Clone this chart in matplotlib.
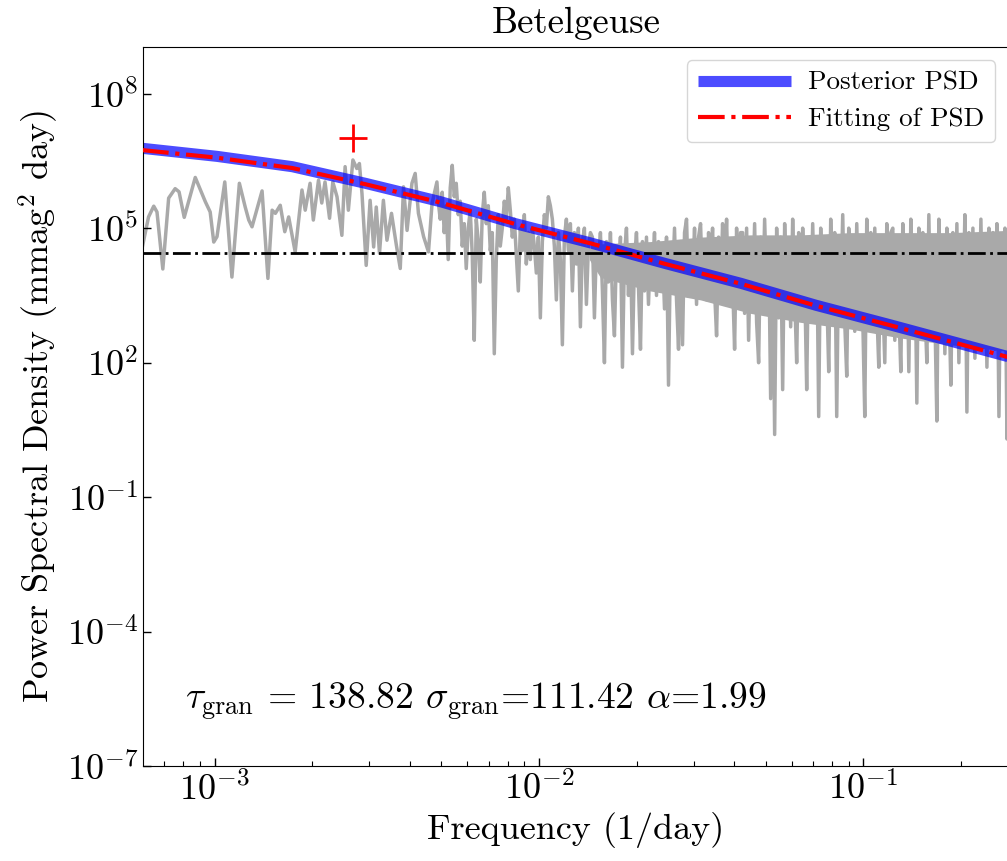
import numpy as np
import matplotlib
matplotlib.use('Agg')
import matplotlib.pyplot as plt
from matplotlib.ticker import FuncFormatter, FixedLocator, NullLocator

plt.rcParams['font.family'] = 'serif'
plt.rcParams['font.serif'] = ['cmr10']
plt.rcParams['mathtext.fontset'] = 'cm'
plt.rcParams['axes.formatter.use_mathtext'] = True

# periodogram, low-frequency part: log10(freq), log10(power)
low_logf = [-3.224, -3.204, -3.188, -3.178, -3.160, -3.142, -3.122, -3.110, -3.094, -3.060,
            -3.029, -3.014, -3.003, -2.993, -2.969, -2.947, -2.924, -2.906, -2.895, -2.885,
            -2.854, -2.836, -2.823, -2.813, -2.798, -2.784, -2.772, -2.752, -2.731, -2.721,
            -2.706, -2.696, -2.680, -2.670, -2.660, -2.646, -2.636, -2.623, -2.608, -2.598,
            -2.588, -2.574, -2.562, -2.554, -2.546, -2.533, -2.521, -2.510, -2.502, -2.492,
            -2.480, -2.469, -2.455, -2.440, -2.428, -2.418, -2.407, -2.392, -2.382, -2.372,
            -2.356, -2.341, -2.330, -2.315]
low_logp = [4.55, 5.25, 5.49, 5.36, 4.09, 5.67, 5.88, 5.81, 5.24, 6.13,
            5.59, 5.36, 4.69, 4.81, 6.03, 3.91, 6.00, 5.47, 5.18, 5.03,
            5.83, 3.88, 5.40, 5.33, 5.51, 4.92, 5.25, 4.47, 5.85, 5.40,
            6.00, 5.18, 6.07, 5.56, 6.03, 5.22, 6.03, 5.70, 4.84, 6.37,
            5.40, 6.52, 6.33, 6.44, 5.77, 4.17, 5.62, 4.58, 5.47, 4.44,
            5.62, 4.73, 5.33, 4.62, 4.10, 5.92, 4.95, 6.00, 6.22, 5.33,
            4.81, 4.47, 5.55, 6.03]

# periodogram, dense part: log10(power) read on an even log-frequency grid
dense_logf_range = (-2.311, -0.5515)
dense_logp = [
    5.6, 5.2, 5.8, 4.9, 5.5, 4.3, 5.9, 6.4, 5.7, 6.0, 5.3, 5.6, 4.6, 5.1, 4.1, 5.0, 5.4, 4.4, 2.5, 5.2,
    4.7, 3.8, 5.3, 5.8, 5.1, 5.5, 4.5, 4.9, 2.2, 4.3, 5.3, 4.6, 5.0, 5.6, 5.2, 5.9, 5.4, 4.8, 5.2, 4.4,
    3.6, 5.0, 4.5, 5.3, 4.2, 4.9, 4.3, 5.0, 4.6, 4.0, 4.8, 3.0, 4.7, 5.3, 5.0, 5.7, 5.5, 5.2, 4.6, 3.4,
    4.9, 4.3, 2.4, 4.8, 5.2, 4.5, 5.1, 3.6, 4.9, 4.2, 5.0, 2.8, 4.7, 5.0, 3.3, 4.6, 4.9,
    4.8, 3.0, 4.6, 4.2, 4.9, 3.6, 2.0, 4.7, 3.8, 4.9, 3.4, 2.6, 4.5, 3.9, 4.8, 1.9, 4.4, 5.0, 3.5, 4.6,
    2.2, 4.3, 4.9, 3.7, 2.3, 4.7, 3.6, 4.8, 3.3, 4.6, 4.1, 4.9, 3.5, 4.7, 3.9, 4.5, 3.2, 4.8, 1.5, 4.6,
    3.8, 5.0, 3.4, 2.3, 4.7, 2.4, 4.9, 5.2, 3.6, 4.6, 3.9, 5.0, 3.3, 4.8, 5.1, 3.7, 4.6, 3.4, 4.9, 4.2,
    5.0, 3.6, 2.6, 4.8, 3.5, 5.1, 4.0, 5.2, 3.4, 4.7, 3.8, 2.3, 5.0, 3.6, 4.9,
    4.9, 3.1, 5.0, 2.5, 4.6, 3.4, 5.1, 2.9, 2.0, 4.8, 3.2, 5.2, 3.6, 4.7, 1.2, 4.5, 0.4, 5.0, 3.0, 4.8,
    1.4, 5.1, 3.3, 4.6, 2.8, 5.2, 3.5, 2.0, 4.9, 3.1, 5.0, 3.8, 1.4, 4.7, 2.9, 5.1, 3.3, 4.8, 0.8, 5.0,
    3.0, 4.6, 3.6, 1.8, 5.2, 3.2, 4.9, 0.8, 4.7, 3.4, 5.3, 2.9, 1.7, 5.0, 3.5, 4.8, 2.7, 5.1, 3.3, 4.6,
    3.0, 0.8, 5.2, 3.6, 4.9, 2.8, 5.0, 3.2, 1.9, 4.8, 3.4, 2.0, 5.1, 3.1, 4.9,
    5.0, 2.5, 4.7, 3.2, 1.8, 5.1, 2.9, 4.8, 1.8, 5.2, 3.0, 4.6, 1.1, 5.0, 2.7, 4.9, 3.3, 2.0, 5.3, 2.6,
    4.7, 3.1, 0.7, 5.2, 2.8, 4.8, 2.2, 5.0, 3.4, 1.5, 4.9, 2.6, 5.1, 2.0, 4.7, 3.2, 5.3, 0.9, 4.9, 2.7,
    5.0, 2.1, 4.8, 3.0, 5.2, 2.4, 4.6, 1.9, 5.0, 2.8, 4.9, 2.3, 5.1, 0.8, 4.8, 2.6, 5.0, 0.3, 4.9,
]

# solid gray body of the dense periodogram (where the lines overlap)
body_logf = [-1.845, -1.811, -1.657, -1.502, -1.348, -1.194, -1.040, -0.885, -0.731, -0.5515]
body_top = [4.55, 4.65, 4.7, 4.8, 4.85, 4.85, 4.9, 4.9, 4.9, 4.95]
body_bottom = [4.3, 3.9, 3.6, 3.4, 3.1, 2.9, 2.75, 2.55, 2.4, 2.25]

# posterior PSD and fitted PSD (log10 values)
model_logf = [-3.224, -2.993, -2.761, -2.536, -2.304, -2.073, -1.841, -1.610, -1.378, -1.146, -0.915, -0.5515]
posterior_logp = [6.78, 6.60, 6.37, 6.00, 5.59, 5.10, 4.67, 4.21, 3.77, 3.28, 2.84, 2.13]
fit_logp = [6.74, 6.57, 6.34, 5.98, 5.57, 5.09, 4.66, 4.20, 3.76, 3.27, 2.83, 2.12]

noise_level = 2.8e4
peak_freq, peak_power = 2.67e-3, 1.0e7
label_text = r'$\tau_{\rm gran}$ = 138.82 $\sigma_{\rm gran}$=111.42 $\alpha$=1.99'

dense_logf = np.linspace(*dense_logf_range, len(dense_logp))
freq = 10 ** np.concatenate([low_logf, dense_logf])
power = 10 ** np.concatenate([low_logp, dense_logp])

fig = plt.figure(figsize=(10.07, 8.61), dpi=100)
ax = fig.add_axes([0.142, 0.1098, 0.860, 0.836])

ax.fill_between(10 ** np.array(body_logf), 10 ** np.array(body_bottom), 10 ** np.array(body_top),
                color='darkgray', lw=0, zorder=1)
ax.plot(freq, power, color='darkgray', lw=2.5, zorder=1)
ax.plot(10 ** np.array(model_logf), 10 ** np.array(posterior_logp), color='b', alpha=0.7,
        lw=8, solid_capstyle='butt', label='Posterior PSD', zorder=2)
ax.plot(10 ** np.array(model_logf), 10 ** np.array(fit_logp), 'r-.', lw=3,
        label='Fitting of PSD', zorder=3)
ax.axhline(noise_level, color='k', ls='-.', lw=2, zorder=3)
ax.plot(peak_freq, peak_power, '+', color='r', ms=20, mew=2, zorder=4)

ax.set_xscale('log')
ax.set_yscale('log')
ax.set_xlim(6.01e-4, 0.281)
ax.set_ylim(1e-7, 1.11e9)

ax.yaxis.set_major_locator(FixedLocator([1e-7, 1e-4, 1e-1, 1e2, 1e5, 1e8]))
ax.yaxis.set_minor_locator(NullLocator())
fmt = FuncFormatter(lambda v, pos: r'$10^{%d}$' % int(round(np.log10(v))))
ax.xaxis.set_major_formatter(fmt)
ax.yaxis.set_major_formatter(fmt)
ax.tick_params(which='both', direction='in', labelsize=26)
ax.tick_params(which='major', length=6, width=1)
ax.tick_params(which='minor', length=3.5, width=0.8)

ax.set_title('Betelgeuse', fontsize=26.5, pad=10)
ax.set_xlabel('Frequency (1/day)', fontsize=26)
ax.set_ylabel(r'Power Spectral Density (mmag$^2$ day)', fontsize=26)

ax.text(0.048, 0.09, label_text, transform=ax.transAxes, fontsize=27, va='center')

ax.legend(loc='upper right', fontsize=19.5, handlelength=3.45, handletextpad=0.63,
          labelspacing=0.45, borderpad=0.4, borderaxespad=0.5, edgecolor='0.8')

fig.savefig('out.png', dpi=100)
